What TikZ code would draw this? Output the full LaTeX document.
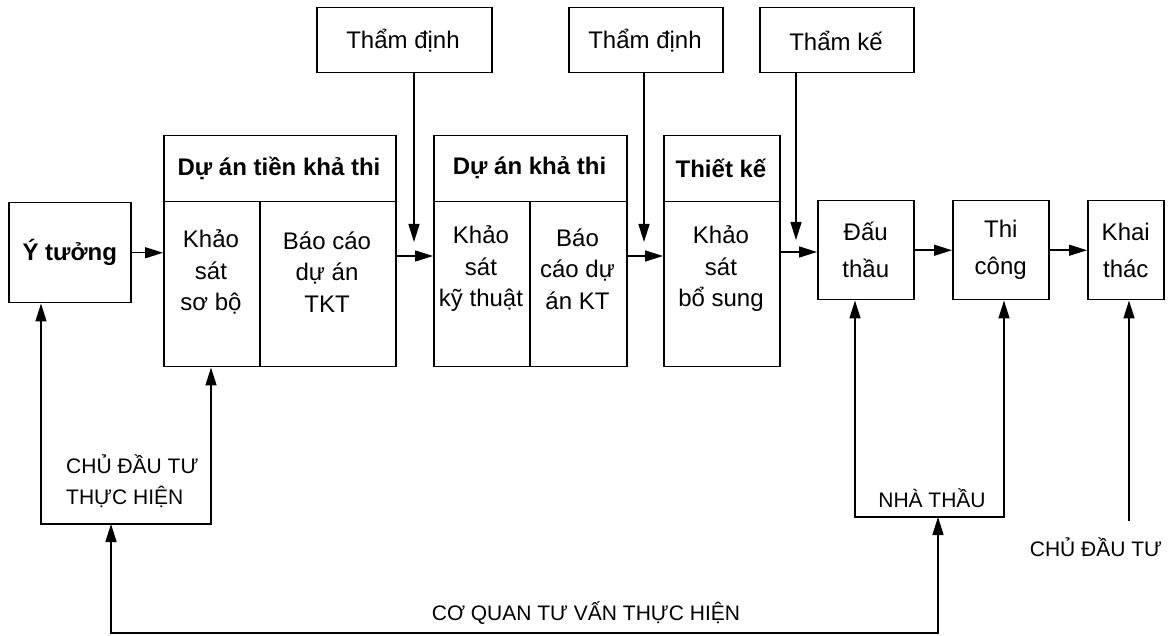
\documentclass[tikz,border=0pt]{standalone}
\usepackage{fontspec}
\setmainfont{Liberation Sans}
\usetikzlibrary{arrows.meta,calc}

\begin{document}
\begin{tikzpicture}[x=1pt,y=-1pt,
  cell/.style={draw, line width=1.5pt, inner sep=0pt, anchor=north west},
  txt/.style={font=\fontsize{24}{31.5}\selectfont, align=center, inner sep=0pt},
  two/.style={font=\fontsize{24}{37}\selectfont, align=center},
  hdr/.style={font=\bfseries\fontsize{24}{30}\selectfont, inner sep=0pt},
  lbl/.style={font=\fontsize{21}{31}\selectfont, align=left, inner sep=0pt},
  tip/.style={Triangle[length=18pt,width=11pt]},
  arr/.style={line width=1.5pt, -{Triangle[length=18pt,width=11pt]}},
  arrboth/.style={line width=1.5pt, {Triangle[length=18pt,width=11pt]}-{Triangle[length=18pt,width=11pt]}}]

\useasboundingbox (0,0) rectangle (1176,636);

% ---- top review boxes ----
\node[cell, minimum width=175pt, minimum height=65pt] (td1) at (316,7) {};
\node[txt] (td1t) at (403,41) {Thẩm định};
\node[cell, minimum width=154pt, minimum height=65pt] (td2) at (568,7) {};
\node[txt] (td2t) at (645,41) {Thẩm định};
\node[cell, minimum width=154pt, minimum height=65pt] (tk) at (759,7) {};
\node[txt] (tkt) at (836,41) {Thẩm kế};

% ---- idea ----
\node[cell, minimum width=122pt, minimum height=100pt, font=\bfseries\fontsize{24}{30}\selectfont] (idea) at (8,202) {Ý tưởng};

% ---- pre-feasibility project ----
\node[cell, minimum width=232pt, minimum height=66pt] (preh) at (163,135) {};
\node[hdr] (preht) at (279,168) {Dự án tiền khả thi};
\node[cell, minimum width=96pt, minimum height=165pt] (pre1) at (163,201) {};
\node[cell, minimum width=136pt, minimum height=165pt] (pre2) at (259,201) {};
\node[txt] (pre1t) at (211,272) {Khảo\\sát\\sơ bộ};
\node[txt] (pre2t) at (327,272) {Báo cáo\\dự án\\TKT};

% ---- feasibility project ----
\node[cell, minimum width=193pt, minimum height=66pt] (fsh) at (433,135) {};
\node[hdr] (fsht) at (529.5,168) {Dự án khả thi};
\node[cell, minimum width=96pt, minimum height=165pt] (fs1) at (433,201) {};
\node[cell, minimum width=97pt, minimum height=165pt] (fs2) at (529,201) {};
\node[txt] (fs1t) at (481,269) {Khảo\\sát\\kỹ thuật};
\node[txt] (fs2t) at (577.5,269) {Báo\\cáo dự\\án KT};

% ---- design ----
\node[cell, minimum width=116pt, minimum height=66pt] (desh) at (663,135) {};
\node[hdr] (desht) at (721,168) {Thiết kế};
\node[cell, minimum width=116pt, minimum height=165pt] (des1) at (663,201) {};
\node[txt] (des1t) at (721,269) {Khảo\\sát\\bổ sung};

% ---- bidding, construction, operation ----
\node[cell, two, minimum width=96pt, minimum height=99pt] (bid) at (817,200) {Đấu\\thầu};
\node[cell, two, minimum width=96pt, minimum height=99pt] (thi) at (952,200) {Thi\\công};
\node[cell, two, minimum width=76pt, minimum height=99pt] (khai) at (1087,200) {Khai\\thác};

% ---- main flow ----
\draw[arr] (idea.east) -- (idea.east -| pre1.west);
\draw[arr] ([yshift=-55pt]pre2.north east) -- ([yshift=-55pt]fs1.north west);
\draw[arr] ([yshift=-55pt]fs2.north east) -- ([yshift=-55pt]des1.north west);
\draw[arr] ([yshift=-51pt]des1.north east) -- ([yshift=-51pt]des1.north east -| bid.west);
\draw[arr] (bid.east) -- (thi.west);
\draw[arr] (thi.east) -- (khai.west);

% ---- review arrows ----
\coordinate (td1end) at (414,242);
\coordinate (td2end) at (644,242);
\coordinate (tkend) at (796,240);
\draw[arr] (td1.south -| td1end) -- (td1end);
\draw[arr] (td2.south -| td2end) -- (td2end);
\draw[arr] (tk.south -| tkend) -- (tkend);

% ---- owner loop ----
\coordinate (ownL) at (41,524);
\coordinate (ownR) at (211,524);
\coordinate (ownM) at (111,524);
\draw[arrboth] (idea.south -| ownL) -- (ownL) -- (ownR) -- (pre1.south -| ownR);
\node[lbl, anchor=west] (ownlbl) at (66,481.5) {CHỦ ĐẦU TƯ\\THỰC HIỆN};

% ---- contractor loop ----
\coordinate (conL) at (855,517);
\coordinate (conR) at (1004,517);
\coordinate (conM) at (938,517);
\draw[arrboth] (bid.south -| conL) -- (conL) -- (conR) -- (thi.south -| conR);
\node[lbl] (conlbl) at (932,498) {NHÀ THẦU};

% ---- consultant line ----
\coordinate (csL) at (111,633);
\coordinate (csR) at (938,633);
\draw[arrboth] (ownM) -- (csL) -- (csR) -- (conM);
\node[lbl] (cslbl) at (586,613) {CƠ QUAN TƯ VẤN THỰC HIỆN};

% ---- operator ----
\coordinate (opB) at (1129,521);
\draw[arr] (opB) -- (opB |- khai.south);
\node[lbl] (oplbl) at (1096,547) {CHỦ ĐẦU TƯ};

\end{tikzpicture}
\end{document}
